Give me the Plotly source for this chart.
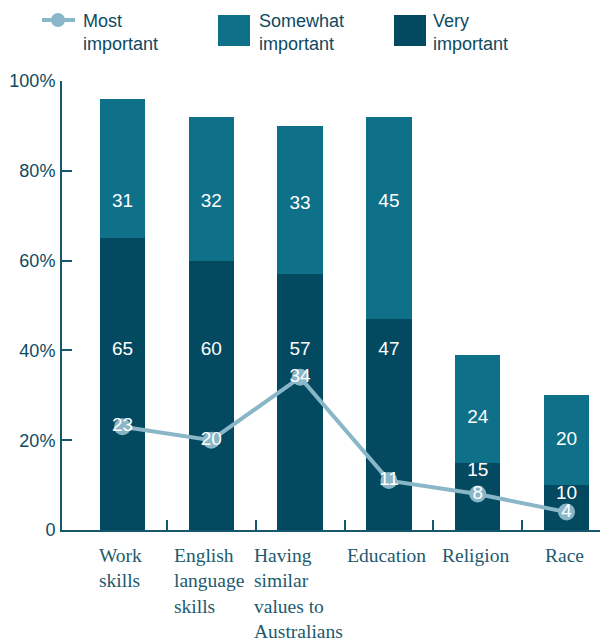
import plotly.graph_objects as go

categories = ["Work<br>skills", "English<br>language<br>skills", "Having<br>similar<br>values to<br>Australians",
              "Education", "Religion", "Race"]
very_important = [65, 60, 57, 47, 15, 10]
somewhat_important = [31, 32, 33, 45, 24, 20]
most_important = [23, 20, 34, 11, 8, 4]
series_names = ["Most<br>important", "Somewhat<br>important", "Very<br>important"]
y_tickvals = [0, 20, 40, 60, 80, 100]
y_ticktext = ["0", "20%", "40%", "60%", "80%", "100%"]

C_VERY = "#03495f"
C_SOME = "#0f7089"
C_LINE = "#8ab7c7"
C_AXIS = "#15586d"
C_TEXT = "#0d4a62"
SANS = "Liberation Sans, Arial, sans-serif"
SERIF = "Liberation Serif, Times New Roman, serif"

idx = list(range(len(categories)))

fig = go.Figure()
fig.add_trace(go.Bar(x=idx, y=very_important, marker=dict(color=C_VERY, line=dict(width=0)),
                     name="Very important", showlegend=False, hoverinfo="skip"))
fig.add_trace(go.Bar(x=idx, y=somewhat_important, marker=dict(color=C_SOME, line=dict(width=0)),
                     name="Somewhat important", showlegend=False, hoverinfo="skip"))

# value labels inside bars (placed by a simple rule from the data)
tops = [v + s for v, s in zip(very_important, somewhat_important)]
very_lab_y = [min(40, v - 2) for v in very_important]
some_lab_y = [min(73, max(t - 17.5, v + 10)) for v, t in zip(very_important, tops)]
fig.add_trace(go.Scatter(x=idx, y=very_lab_y, mode="text", text=[str(v) for v in very_important],
                         textfont=dict(color="white", size=19, family=SANS), showlegend=False,
                         hoverinfo="skip"))
fig.add_trace(go.Scatter(x=idx, y=some_lab_y, mode="text", text=[str(v) for v in somewhat_important],
                         textfont=dict(color="white", size=19, family=SANS), showlegend=False,
                         hoverinfo="skip"))

fig.add_trace(go.Scatter(x=idx, y=most_important, mode="lines+markers+text",
                         text=[str(v) for v in most_important], textposition="middle center",
                         textfont=dict(color="white", size=19, family=SANS),
                         line=dict(color=C_LINE, width=4),
                         marker=dict(color=C_LINE, size=17),
                         showlegend=False, hoverinfo="skip"))

# helper trace for boundary ticks axis
fig.add_trace(go.Scatter(x=[0], y=[0], xaxis="x2", mode="markers", marker=dict(opacity=0),
                         showlegend=False, hoverinfo="skip"))

xr = [-0.681, 5.467]
fig.update_layout(
    width=600, height=635,
    margin=dict(l=54, r=0, t=73, b=113),
    paper_bgcolor="white", plot_bgcolor="white",
    barmode="stack", bargap=0.49,
    showlegend=False,
    xaxis=dict(range=xr, showline=True, linecolor=C_AXIS, linewidth=2, ticks="",
               showticklabels=False, showgrid=False, zeroline=False, fixedrange=True),
    xaxis2=dict(range=xr, overlaying="x", anchor="y", side="bottom",
                tickvals=[i + 0.5 for i in idx[:-1]], ticks="inside", ticklen=10, tickwidth=2,
                tickcolor=C_AXIS, showticklabels=False, showline=False, showgrid=False,
                zeroline=False),
    yaxis=dict(range=[0, 100], tickvals=y_tickvals, ticktext=y_ticktext, ticks="inside",
               ticklen=10, tickwidth=2, tickcolor=C_AXIS, showline=True, linecolor=C_AXIS,
               linewidth=2, showgrid=False, zeroline=False,
               tickfont=dict(family=SANS, size=18, color=C_TEXT), ticklabelstandoff=1),
)

# category labels (left-aligned multi-line, serif)
for i, c in zip(idx, categories):
    fig.add_annotation(x=i, y=0, xref="x", yref="y", text=c, showarrow=False,
                       xanchor="center", yanchor="top", align="left", xshift=-2, yshift=-13,
                       font=dict(family=SERIF, size=19.5, color="#1d5a6e"))

# custom legend (positions in viewport pixels converted to paper coords)
def px_x(p):
    return (p - 62) / 546.0

def px_y(p):
    return (530 - p) / 449.0

fig.add_shape(type="line", xref="paper", yref="paper", x0=px_x(42), x1=px_x(75), y0=px_y(20), y1=px_y(20),
              line=dict(color=C_LINE, width=4))
fig.add_shape(type="circle", xref="paper", yref="paper", x0=px_x(51), x1=px_x(65), y0=px_y(27), y1=px_y(13),
              line=dict(width=0), fillcolor=C_LINE)
fig.add_shape(type="rect", xref="paper", yref="paper", x0=px_x(218), x1=px_x(250), y0=px_y(46), y1=px_y(15),
              line=dict(width=0), fillcolor=C_SOME)
fig.add_shape(type="rect", xref="paper", yref="paper", x0=px_x(394), x1=px_x(426), y0=px_y(46), y1=px_y(15),
              line=dict(width=0), fillcolor=C_VERY)
for name, lx in zip(series_names, [81, 257, 431]):
    fig.add_annotation(x=px_x(lx), y=px_y(33), xref="paper", yref="paper", text=name, showarrow=False,
                       xanchor="left", yanchor="middle", align="left",
                       font=dict(family=SANS, size=18, color=C_TEXT))

fig.write_html("out.html")
